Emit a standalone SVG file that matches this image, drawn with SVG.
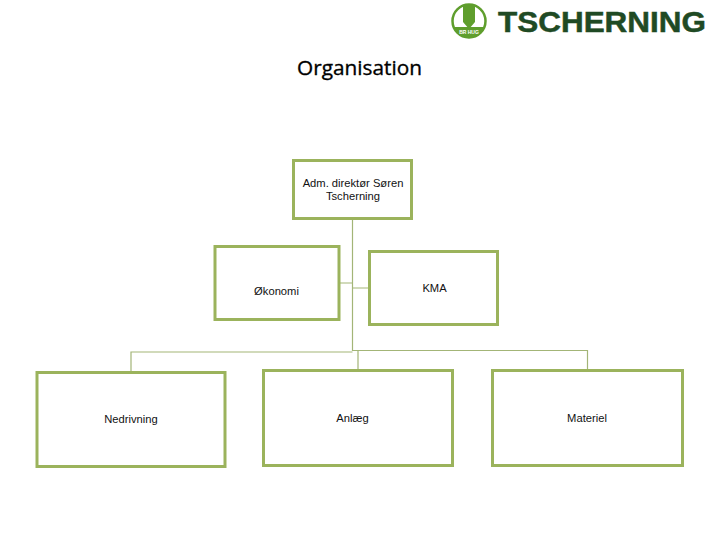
<svg xmlns="http://www.w3.org/2000/svg" width="720" height="540" viewBox="0 0 720 540">
<style>
.box{fill:#fff;stroke:#9bb35c;stroke-width:3}
.conn{fill:none;stroke:#a3b577;stroke-width:1.2}
text{font-family:"Liberation Sans",Arial,sans-serif;font-size:11.200px;fill:#111;text-anchor:middle}
</style>
<rect width="720" height="540" fill="#fff"/>
<g id="logo">
<circle cx="469" cy="21" r="16.500" fill="#fff" stroke="#5f9e2d" stroke-width="2.500"/>
<path d="M463 5H475V22L469 29L463 22Z" fill="#5f9e2d"/>
<path d="M454 27H484Q480 37 469 38Q458 37 454 27Z" fill="#5f9e2d"/>
<text x="469" y="34" style="font-size:5px;font-weight:700;fill:#fff">BR HUG</text>
<text x="602" y="32" style="font-size:29.500px;font-weight:700;fill:#1f4a24;stroke:#1f4a24;stroke-width:.5" textLength="208" lengthAdjust="spacingAndGlyphs">TSCHERNING</text>
</g>
<text id="title" x="359.500" y="74.500" style="font-family:'Open Sans',sans-serif;font-size:20.800px;fill:#000;stroke:#000;stroke-width:.35">Organisation</text>
<g id="connectors">
<path class="conn" d="M352.500 219V351M339 283H352.500M352.500 288H369M352.500 352H131V372M352.500 350.500H587.500V370M358 350.500V370"/>
</g>
<g id="n-adm"><rect class="box" x="293.500" y="160.500" width="118" height="58"/><text x="353" y="187">Adm. direktør Søren</text><text x="353" y="200">Tscherning</text></g>
<g id="n-okonomi"><rect class="box" x="215" y="246.500" width="124" height="73"/><text x="276.500" y="295">Økonomi</text></g>
<g id="n-kma"><rect class="box" x="369.500" y="251.500" width="128" height="73"/><text x="434.500" y="292">KMA</text></g>
<g id="n-nedrivning"><rect class="box" x="37" y="372.500" width="188" height="94"/><text x="131" y="423">Nedrivning</text></g>
<g id="n-anlaeg"><rect class="box" x="263.500" y="370.500" width="189" height="95"/><text x="352.500" y="422">Anlæg</text></g>
<g id="n-materiel"><rect class="box" x="492.500" y="370.500" width="190" height="95"/><text x="587" y="422">Materiel</text></g>
</svg>
